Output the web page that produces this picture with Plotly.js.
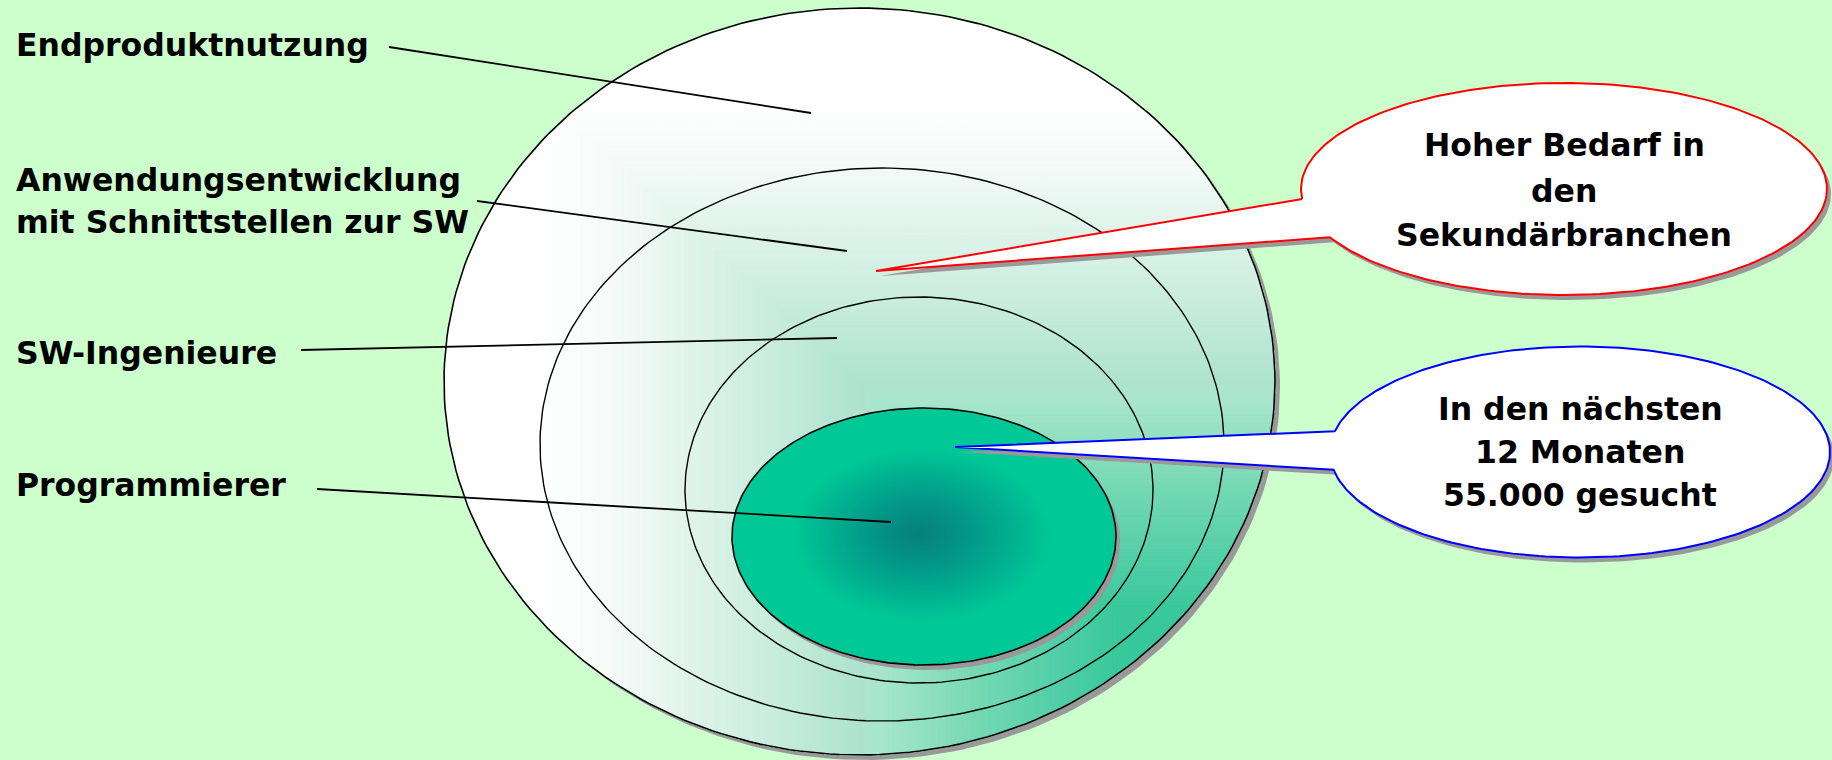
<!DOCTYPE html>
<html>
<head>
<meta charset="utf-8">
<script src="https://cdn.plot.ly/plotly-3.0.1.min.js"></script>
<style>html,body{margin:0;padding:0;background:#CCFFCC;}#chart{width:1832px;height:760px;}</style>
</head>
<body>
<div id="chart"></div>
<script>
// ---- content (data) ----
const levelNames = ['Endproduktnutzung', 'Anwendungsentwicklung', 'SW-Ingenieure', 'Programmierer'];
const levelSubLines = ['', 'mit Schnittstellen zur SW', '', ''];
const calloutRedLines = ['Hoher Bedarf in', 'den', 'Sekundärbranchen'];
const calloutBlueLines = ['In den nächsten', '12 Monaten', '55.000 gesucht'];

// ---- geometry (layout in pixel-axis units) ----
const ellipses = [
  {cx: 859.5, cy: 381.5, rx: 415.5, ry: 373.5},
  {cx: 882,   cy: 444.5, rx: 342,   ry: 276.5},
  {cx: 919,   cy: 490,   rx: 234,   ry: 193},
  {cx: 924,   cy: 536.5, rx: 192,   ry: 128.5}
];
const labelPos = [
  {x: 14, y: [45]},
  {x: 14, y: [180, 222]},
  {x: 14, y: [353]},
  {x: 14, y: [485]}
];
const leaders = [
  [[389, 47], [811, 113]],
  [[477, 201], [847, 251]],
  [[301, 350], [837, 338]],
  [[317, 489], [891, 522]]
];
const callouts = [
  {cx: 1564, cy: 189, rx: 263, ry: 106, a: [1301, 199], b: [1331, 237], tip: [876, 271], color: '#FF0000',
   lines: calloutRedLines, tx: 1564, ty: [144.5, 191, 235]},
  {cx: 1580, cy: 452, rx: 250, ry: 105.5, a: [1332, 431], b: [1331, 470], tip: [955, 447], color: '#0000FF',
   lines: calloutBlueLines, tx: 1580, ty: [409, 451.5, 495]}
];

// ---- helpers ----
function ellPts(e, n, dx, dy) {
  n = n || 260; dx = dx || 0; dy = dy || 0;
  const xs = [], ys = [];
  for (let i = 0; i <= n; i++) {
    const t = 2 * Math.PI * i / n;
    xs.push(e.cx + dx + e.rx * Math.cos(t));
    ys.push(e.cy + dy + e.ry * Math.sin(t));
  }
  return [xs, ys];
}
// Sutherland-Hodgman: clip polygon (closed arrays) by convex CCW polygon (closed arrays)
function clipConvex(px, py, qx, qy) {
  let X = px.slice(0, -1), Y = py.slice(0, -1);
  for (let e = 0; e < qx.length - 1 && X.length; e++) {
    const ax = qx[e], ay = qy[e], bx = qx[e + 1], by = qy[e + 1];
    const side = (x, y) => (bx - ax) * (y - ay) - (by - ay) * (x - ax);
    const nx = [], ny = [];
    const n = X.length;
    for (let j = 0; j < n; j++) {
      const i = (j - 1 + n) % n;
      const si = side(X[i], Y[i]), sj = side(X[j], Y[j]);
      if (sj >= 0) {
        if (si < 0) { const t = si / (si - sj); nx.push(X[i] + t * (X[j] - X[i])); ny.push(Y[i] + t * (Y[j] - Y[i])); }
        nx.push(X[j]); ny.push(Y[j]);
      } else if (si >= 0) {
        const t = si / (si - sj); nx.push(X[i] + t * (X[j] - X[i])); ny.push(Y[i] + t * (Y[j] - Y[i]));
      }
    }
    X = nx; Y = ny;
  }
  if (X.length) { X.push(X[0]); Y.push(Y[0]); }
  return [X, Y];
}
function hex2rgb(h) { return [parseInt(h.substr(1,2),16), parseInt(h.substr(3,2),16), parseInt(h.substr(5,2),16)]; }
function interp(stops, v) {
  if (v <= stops[0][0]) return stops[0][1];
  for (let i = 1; i < stops.length; i++) {
    if (v <= stops[i][0]) {
      const t = (v - stops[i-1][0]) / (stops[i][0] - stops[i-1][0]);
      const a = hex2rgb(stops[i-1][1]), b = hex2rgb(stops[i][1]);
      const c = a.map((x, k) => Math.round(x + t * (b[k] - x)));
      return 'rgb(' + c.join(',') + ')';
    }
  }
  return stops[stops.length - 1][1];
}
// rectangular "from corner" gradient of the big ellipse (from its bottom-right bbox corner)
const rectStops = [[0,'#20C393'],[0.2,'#3CC99C'],[0.35,'#72D7B4'],[0.475,'#A8E6CC'],[0.5,'#AEE3CE'],[0.62,'#CCEEDF'],[0.73,'#E6F5EF'],[0.79,'#F4FAF8'],[0.88,'#FFFFFF'],[1,'#FFFFFF']];
const radStops = [[0,'#077F7B'],[0.3,'#039B8A'],[0.68,'#00C896'],[1,'#00C896']];

const traces = [];
function poly(xs, ys, fill, lineColor, lineWidth) {
  traces.push({type: 'scatter', mode: 'lines', x: xs, y: ys, fill: 'toself', fillcolor: fill,
    line: {color: lineColor || fill, width: lineWidth === undefined ? 0 : lineWidth}, hoverinfo: 'skip'});
}
function outline(xs, ys, color, width) {
  traces.push({type: 'scatter', mode: 'lines', x: xs, y: ys, line: {color: color, width: width}, hoverinfo: 'skip'});
}

// outer ellipse shadow
const E0 = ellipses[0];
let p = ellPts(E0, 260, 5, 5);
poly(p[0], p[1], '#999999');
// outer ellipse gradient (painter layers: quadrant ∩ ellipse)
p = ellPts(E0);
poly(p[0], p[1], '#FFFFFF');
const R = E0.cx + E0.rx, B = E0.cy + E0.ry, W = 2 * E0.rx, H = 2 * E0.ry;
for (let t = 0.88; t > 0.13; t -= 0.005) {
  const x0 = R - t * W, y0 = B - t * H, BIG = 5000;
  const c = clipConvex(p[0], p[1], [x0, BIG, BIG, x0, x0], [y0, y0, BIG, BIG, y0]);
  if (c[0].length > 3) { const col = interp(rectStops, t - 0.0025); poly(c[0], c[1], col, col, 0.6); }
}
outline(p[0], p[1], '#000000', 1.6);
// ellipse 2, 3 outlines
[1, 2].forEach(i => { const q = ellPts(ellipses[i]); outline(q[0], q[1], '#000000', 1.4); });
// inner ellipse shadow + radial gradient
const inn = ellipses[3];
p = ellPts(inn, 260, 4, 5);
poly(p[0], p[1], '#999999');
const gcx = 918, gcy = 533;
for (let i = 0; i <= 60; i++) {
  const t = 1 - i / 60 * 0.99;
  const e = {cx: inn.cx + (1 - t) * (gcx - inn.cx), cy: inn.cy + (1 - t) * (gcy - inn.cy), rx: inn.rx * t, ry: inn.ry * t};
  const q = ellPts(e, 160);
  poly(q[0], q[1], interp(radStops, t));
}
p = ellPts(inn);
outline(p[0], p[1], '#000000', 1.6);

// leader lines
leaders.forEach(l => outline([l[0][0], l[1][0]], [l[0][1], l[1][1]], '#000000', 1.8));

// callouts
function calloutPath(c, dx, dy) {
  const ta = Math.atan2((c.a[1] - c.cy) / c.ry, (c.a[0] - c.cx) / c.rx);
  let tb = Math.atan2((c.b[1] - c.cy) / c.ry, (c.b[0] - c.cx) / c.rx);
  let start = ta, end = tb;
  while (end <= start) end += 2 * Math.PI;
  if (end - start < Math.PI) { const tmp = start; start = end; end = tmp + 2 * Math.PI; }
  const xs = [], ys = [];
  const n = 220;
  for (let i = 0; i <= n; i++) {
    const t = start + (end - start) * i / n;
    xs.push(c.cx + dx + c.rx * Math.cos(t));
    ys.push(c.cy + dy + c.ry * Math.sin(t));
  }
  xs.push(c.tip[0] + dx); ys.push(c.tip[1] + dy);
  xs.push(xs[0]); ys.push(ys[0]);
  return [xs, ys];
}
callouts.forEach(c => {
  const sh = calloutPath(c, 4, 5);
  poly(sh[0], sh[1], '#999999');
  const q = calloutPath(c, 0, 0);
  poly(q[0], q[1], '#FFFFFF', c.color, 2);
});

// text
const annotations = [];
const font = {family: 'DejaVu Sans', size: 31.5, color: '#000000'};
levelNames.forEach((name, i) => {
  const lines = [name].concat(levelSubLines[i] ? [levelSubLines[i]] : []);
  lines.forEach((ln, k) => annotations.push({x: labelPos[i].x, y: labelPos[i].y[k], xref: 'x', yref: 'y',
    text: '<b>' + ln + '</b>', showarrow: false, xanchor: 'left', yanchor: 'middle', font: font}));
});
callouts.forEach(c => c.lines.forEach((ln, k) => annotations.push({x: c.tx, y: c.ty[k], xref: 'x', yref: 'y',
  text: '<b>' + ln + '</b>', showarrow: false, xanchor: 'center', yanchor: 'middle', font: font})));

const layout = {
  width: 1832, height: 760,
  margin: {l: 0, r: 0, t: 0, b: 0, pad: 0},
  paper_bgcolor: '#CCFFCC', plot_bgcolor: '#CCFFCC',
  showlegend: false,
  xaxis: {range: [0, 1832], visible: false, fixedrange: true},
  yaxis: {range: [760, 0], visible: false, fixedrange: true},
  annotations: annotations,
  hovermode: false
};
Plotly.newPlot('chart', traces, layout, {staticPlot: true, displayModeBar: false});
</script>
</body>
</html>
